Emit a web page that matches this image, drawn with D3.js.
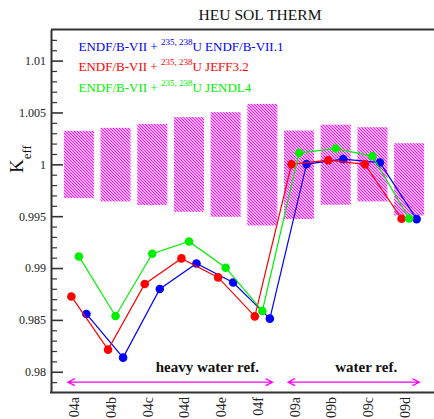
<!DOCTYPE html>
<html>
<head>
<meta charset="utf-8">
<script src="https://cdn.jsdelivr.net/npm/d3@7"></script>
<style>
  html, body { margin: 0; padding: 0; background: #fff; }
  svg { display: block; font-family: "Liberation Serif", "DejaVu Serif", serif; }
</style>
</head>
<body>
<svg id="chart" width="434" height="419"></svg>
<script>
// Benchmark cases (HEU-SOL-THERM-004 / -009)
const categories = ["04a", "04b", "04c", "04d", "04e", "04f", "09a", "09b", "09c", "09d"];

// Experimental uncertainty band per case (lower / upper keff)
const bandLow  = [0.99674, 0.99642, 0.99607, 0.99542, 0.99494, 0.99410, 0.99472, 0.99610, 0.99642, 0.99507];
const bandHigh = [1.00323, 1.00352, 1.00390, 1.00455, 1.00503, 1.00583, 1.00326, 1.00383, 1.00358, 1.00204];

// Calculated keff, one array per library combination
const keffJeff32  = [0.98726, 0.98213, 0.98846, 0.99093, 0.98910, 0.98534, 1.00000, 1.00040, 1.00000, 0.99475];
const keffJendl4  = [0.99112, 0.98538, 0.99138, 0.99256, 0.99003, 0.98586, 1.00110, 1.00152, 1.00079, 0.99478];
const keffEndf71  = [0.98557, 0.98136, 0.98798, 0.99044, 0.98861, 0.98512, 1.00002, 1.00050, 1.00017, 0.99472];

const seriesNames  = ["ENDF/B-VII.1", "JEFF3.2", "JENDL4"];
const seriesColors = ["#0000ff", "#ff0000", "#00ee00"];

// Y axis ticks
const yMajorTicks  = [0.98, 0.985, 0.99, 0.995, 1.0, 1.005, 1.01];
const yTickLabels  = ["0.98", "0.985", "0.99", "0.995", "1", "1.005", "1.01"];
const yMinorTicks  = [0.979, 0.981, 0.982, 0.983, 0.984, 0.986, 0.987, 0.988, 0.989,
                      0.991, 0.992, 0.993, 0.994, 0.996, 0.997, 0.998, 0.999,
                      1.001, 1.002, 1.003, 1.004, 1.006, 1.007, 1.008, 1.009, 1.011, 1.012];

// Region annotations
const regionLabels = ["heavy water ref.", "water ref."];

const svg = d3.select("#chart");
const plotLeft = 51, plotTop = 29.5, plotBottom = 392.5, plotRight = 437;

const x = d3.scaleBand().domain(categories).range([plotLeft, plotRight])
  .paddingInner(0).paddingOuter(0.26);
const step = x.step();
const cx = c => x(c) + x.bandwidth() / 2;

const y = d3.scaleLinear().domain([0.978, 1.013]).range([plotBottom, plotTop]);

// series horizontal offsets within a case
const offset = d3.scalePoint().domain(["JEFF3.2", "JENDL4", "ENDF/B-VII.1"])
  .range([-0.205 * step, 0.205 * step]);

// hatch pattern for the uncertainty bands
const defs = svg.append("defs");
const pat = defs.append("pattern")
  .attr("id", "hatch").attr("patternUnits", "userSpaceOnUse")
  .attr("width", 3).attr("height", 3);
pat.append("path")
  .attr("d", "M-1,-1 L4,4 M-1,2 L1,4 M2,-1 L4,1")
  .attr("stroke", "#ff00ff").attr("stroke-width", 1.1).attr("fill", "none");

// uncertainty bands
const barW = 0.82 * step;
svg.append("g").selectAll("rect").data(categories).join("rect")
  .attr("x", d => cx(d) - barW / 2)
  .attr("width", barW)
  .attr("y", (d, i) => y(bandHigh[i]))
  .attr("height", (d, i) => y(bandLow[i]) - y(bandHigh[i]))
  .attr("fill", "url(#hatch)");

// series lines and markers
const seriesData = [
  { name: "ENDF/B-VII.1", values: keffEndf71, color: seriesColors[0] },
  { name: "JEFF3.2",      values: keffJeff32, color: seriesColors[1] },
  { name: "JENDL4",       values: keffJendl4, color: seriesColors[2] }
];
const line = d3.line();
seriesData.forEach(s => {
  const pts = categories.map((c, i) => [cx(c) + offset(s.name), y(s.values[i])]);
  const g = svg.append("g");
  g.append("path").attr("d", line(pts))
    .attr("fill", "none").attr("stroke", s.color).attr("stroke-width", 1.2);
  g.selectAll("circle").data(pts).join("circle")
    .attr("cx", d => d[0]).attr("cy", d => d[1]).attr("r", 4.3)
    .attr("fill", s.color);
});

// frame lines (top and bottom run off the right edge)
const frameColor = "#333";
svg.append("line").attr("x1", plotLeft).attr("x2", 440).attr("y1", plotTop).attr("y2", plotTop)
  .attr("stroke", frameColor).attr("stroke-width", 2);
svg.append("line").attr("x1", plotLeft - 1).attr("x2", 440).attr("y1", plotBottom).attr("y2", plotBottom)
  .attr("stroke", frameColor).attr("stroke-width", 2);

// y axis: major ticks with labels, minor ticks, ticks pointing inward
const yAxis = svg.append("g").attr("transform", `translate(${plotLeft},0)`)
  .call(d3.axisLeft(y).tickValues(yMajorTicks).tickSizeInner(-12).tickSizeOuter(0)
    .tickPadding(5).tickFormat((d, i) => yTickLabels[i]));
yAxis.select(".domain").attr("stroke", frameColor).attr("stroke-width", 2);
yAxis.selectAll(".tick line").attr("stroke", frameColor).attr("stroke-width", 1.6);
yAxis.selectAll(".tick text").attr("font-family", "Liberation Serif, serif")
  .attr("font-size", 12).attr("fill", "#222");

const yMinor = svg.append("g").attr("transform", `translate(${plotLeft},0)`)
  .call(d3.axisLeft(y).tickValues(yMinorTicks).tickSizeInner(-6).tickSizeOuter(0)
    .tickFormat(""));
yMinor.select(".domain").remove();
yMinor.selectAll(".tick line").attr("stroke", frameColor).attr("stroke-width", 1.2);

// x category labels, rotated
svg.append("g").selectAll("text").data(categories).join("text")
  .attr("transform", d => `translate(${cx(d) + 0.5},397) rotate(-90)`)
  .attr("text-anchor", "end")
  .attr("font-size", 14).attr("fill", "#222")
  .text(d => d);

// title
svg.append("text").attr("x", 260).attr("y", 20).attr("text-anchor", "middle")
  .attr("font-size", 15.6).attr("fill", "#111").text("HEU SOL THERM");

// y axis title: K_eff
const yt = svg.append("text")
  .attr("transform", "translate(23,173) rotate(-90)")
  .attr("fill", "#111");
yt.append("tspan").attr("font-size", 19).text("K");
yt.append("tspan").attr("font-size", 13).attr("dy", 8).text("eff");

// legend
const legY = [51, 71.3, 91.7];
seriesData.forEach((s, i) => {
  const t = svg.append("text").attr("x", 78.5).attr("y", legY[i])
    .attr("font-size", 13).attr("fill", s.color);
  t.append("tspan").text("ENDF/B-VII + ");
  t.append("tspan").attr("font-size", 9).attr("dy", -6).text("235, 238");
  t.append("tspan").attr("dy", 6).text("U " + s.name);
});

// region arrows and labels
const arrowY = y(0.979);
const regions = [
  { from: "04a", to: "04f", label: regionLabels[0], labelAt: cx("04d") + 0.5 * step },
  { from: "09a", to: "09d", label: regionLabels[1], labelAt: cx("09c") - 0.17 * step }
];
const arrows = svg.append("g").attr("stroke", "#ff00ff").attr("stroke-width", 1.2).attr("fill", "none");
regions.forEach(r => {
  const x1 = cx(r.from) - 0.3 * step, x2 = cx(r.to) + 0.28 * step;
  arrows.append("path").attr("d",
    `M${x1},${arrowY} L${x2},${arrowY}` +
    ` M${x1 + 7},${arrowY - 3.5} L${x1},${arrowY} L${x1 + 7},${arrowY + 3.5}` +
    ` M${x2 - 7},${arrowY - 3.5} L${x2},${arrowY} L${x2 - 7},${arrowY + 3.5}`);
  svg.append("text").attr("x", r.labelAt).attr("y", 372).attr("text-anchor", "middle")
    .attr("font-size", 15).attr("font-weight", "bold").attr("fill", "#111")
    .text(r.label);
});
</script>
</body>
</html>
